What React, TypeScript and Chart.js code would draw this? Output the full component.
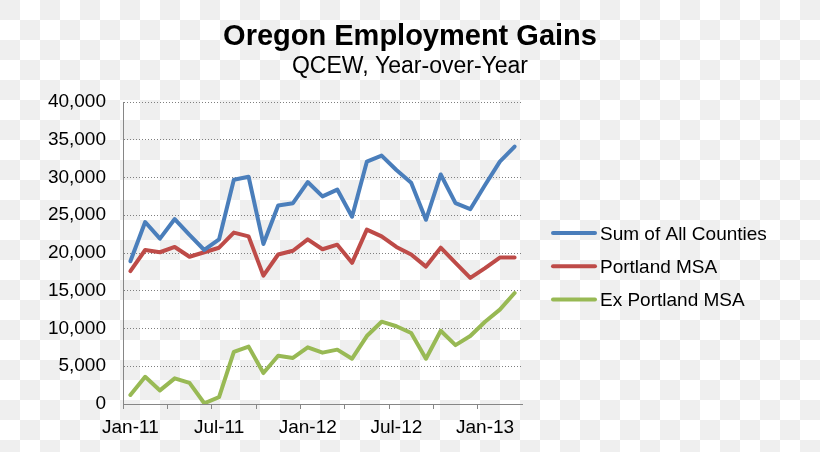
import { useEffect, useRef } from "react";
import { Chart, registerables } from "chart.js";

Chart.register(...registerables);

const titleText = "Oregon Employment Gains";
const subtitleText = "QCEW, Year-over-Year";

const months = [
  "Jan-11", "Feb-11", "Mar-11", "Apr-11", "May-11", "Jun-11",
  "Jul-11", "Aug-11", "Sep-11", "Oct-11", "Nov-11", "Dec-11",
  "Jan-12", "Feb-12", "Mar-12", "Apr-12", "May-12", "Jun-12",
  "Jul-12", "Aug-12", "Sep-12", "Oct-12", "Nov-12", "Dec-12",
  "Jan-13", "Feb-13", "Mar-13",
];

const seriesLabels = ["Sum of All Counties", "Portland MSA", "Ex Portland MSA"];
const seriesColors = ["#4A7EBB", "#BE4B48", "#98B954"];

const sumAllCounties = [
  18900, 24100, 21900, 24500, 22400, 20400, 21800, 29700, 30100,
  21200, 26300, 26600, 29400, 27500, 28400, 24800, 32100, 32900,
  31000, 29300, 24400, 30400, 26600, 25800, 29000, 32100, 34100,
];

const portlandMSA = [
  17600, 20400, 20100, 20800, 19500, 20100, 20700, 22700, 22200,
  17000, 19800, 20300, 21800, 20500, 21100, 18700, 23100, 22200,
  20800, 19800, 18200, 20700, 18700, 16700, 18000, 19400, 19400,
];

const exPortlandMSA = [
  1200, 3600, 1800, 3400, 2800, 100, 900, 6900, 7600,
  4100, 6400, 6100, 7500, 6800, 7200, 6000, 9000, 10900,
  10300, 9400, 6000, 9700, 7800, 9000, 10900, 12500, 14700,
];

const yTicks = [0, 5000, 10000, 15000, 20000, 25000, 30000, 35000, 40000];

const FONT = '"Liberation Sans", Arial, Helvetica, sans-serif';

const titlesAndLegend = {
  id: "titlesAndLegend",
  afterDraw(chart: any) {
    const ctx = chart.ctx as CanvasRenderingContext2D;
    ctx.save();
    ctx.fillStyle = "#000";
    ctx.textAlign = "center";
    ctx.textBaseline = "alphabetic";
    ctx.font = `bold 29px ${FONT}`;
    ctx.fillText(titleText, chart.width / 2, 45);
    ctx.font = `23px ${FONT}`;
    ctx.fillText(subtitleText, chart.width / 2, 73);

    const area = chart.chartArea;
    const x0 = area.right + 31;
    const lineLen = 42;
    const firstY = 233;
    const step = 33.3;
    ctx.textAlign = "left";
    ctx.font = `19px ${FONT}`;
    chart.data.datasets.forEach((ds: any, i: number) => {
      const y = firstY + i * step;
      ctx.strokeStyle = ds.borderColor;
      ctx.lineWidth = 4;
      ctx.lineCap = "round";
      ctx.beginPath();
      ctx.moveTo(x0, y);
      ctx.lineTo(x0 + lineLen, y);
      ctx.stroke();
      ctx.fillStyle = "#000";
      ctx.fillText(ds.label, x0 + lineLen + 5, y + 6.6);
    });
    ctx.restore();
  },
};

export default function App() {
  const canvasRef = useRef<HTMLCanvasElement | null>(null);

  useEffect(() => {
    if (!canvasRef.current) return;
    const seriesData = [sumAllCounties, portlandMSA, exPortlandMSA];
    const chart = new Chart(canvasRef.current, {
      type: "line",
      data: {
        labels: months,
        datasets: seriesData.map((d, i) => ({
          label: seriesLabels[i],
          data: d,
          borderColor: seriesColors[i],
          backgroundColor: seriesColors[i],
          borderWidth: 4,
          pointRadius: 0,
          pointHoverRadius: 0,
          tension: 0,
          fill: false,
          borderJoinStyle: "round" as const,
          borderCapStyle: "round" as const,
        })),
      },
      options: {
        responsive: false,
        animation: false,
        events: [],
        layout: { padding: { top: 102, right: 298, bottom: 0, left: 0 } },
        plugins: {
          legend: { display: false },
          title: { display: false },
          tooltip: { enabled: false },
        },
        scales: {
          x: {
            type: "category",
            offset: true,
            afterFit(scale: any) {
              scale.height = 48;
            },
            grid: {
              display: true,
              offset: true,
              drawOnChartArea: false,
              drawTicks: true,
              tickLength: 5,
              tickWidth: 1,
              tickColor: (ctx: any) => (ctx.index % 3 === 0 ? "#868686" : "rgba(0,0,0,0)"),
            },
            border: { display: true, color: "#868686", width: 1 },
            ticks: {
              autoSkip: false,
              maxRotation: 0,
              minRotation: 0,
              padding: 7,
              color: "#000",
              font: { family: FONT, size: 19 },
              callback: (_v: any, index: number) => (index % 6 === 0 ? months[index] : ""),
            },
          },
          y: {
            min: 0,
            max: 40000,
            afterFit(scale: any) {
              scale.width = 123;
            },
            afterBuildTicks(scale: any) {
              scale.ticks = yTicks.map((v) => ({ value: v }));
            },
            grid: {
              display: true,
              drawTicks: false,
              color: "#7f7f7f",
              lineWidth: 1,
            },
            border: { display: true, color: "#868686", width: 1, dash: [1, 2] },
            ticks: {
              padding: 17,
              color: "#000",
              font: { family: FONT, size: 19 },
              callback: (v: any) => Number(v).toLocaleString("en-US"),
            },
          },
        },
      },
      plugins: [titlesAndLegend],
    });
    return () => chart.destroy();
  }, []);

  return (
    <div
      style={{
        position: "fixed",
        inset: 0,
        background: "repeating-conic-gradient(#ffffff 0 25%, #efefef 0 50%) 0 0 / 40px 40px",
      }}
    >
      <canvas
        ref={canvasRef}
        width={820}
        height={452}
        style={{ position: "absolute", left: 0, top: 0, width: 820, height: 452 }}
      />
    </div>
  );
}
